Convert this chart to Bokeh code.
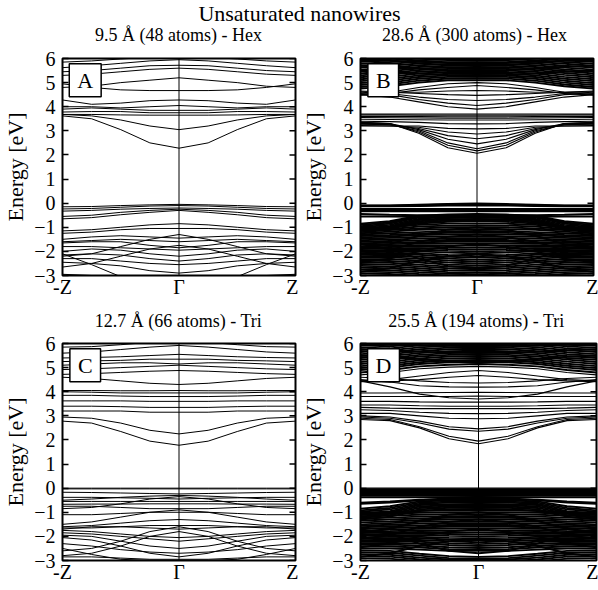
import math
from bokeh.plotting import figure
from bokeh.layouts import column, row
from bokeh.models import Span, Label, FixedTicker, Range1d
from bokeh.embed import file_html
from bokeh.resources import INLINE

FONT = "'Liberation Serif'"

# k points from Gamma (0) to Z (1); bands are symmetric about Gamma
k_half = [0.0, 0.25, 0.5, 0.75, 1.0]
y_ticks = [-3, -2, -1, 0, 1, 2, 3, 4, 5, 6]
x_ticks = [-1, 0, 1]
x_tick_labels = ["-Z", "Γ", "Z"]

main_title = "Unsaturated nanowires"
panel_titles = ["9.5 Å (48 atoms) - Hex", "28.6 Å (300 atoms) - Hex",
                "12.7 Å (66 atoms) - Tri", "25.5 Å (194 atoms) - Tri"]
panel_letters = ["A", "B", "C", "D"]

# Energies [eV] at k = 0, 0.25, 0.5, 0.75, 1 (Gamma -> Z)
bands_A = [
    [2.28, 2.5, 3.05, 3.5, 3.62],
    [3.05, 3.2, 3.45, 3.62, 3.68],
    [3.65, 3.65, 3.66, 3.68, 3.68],
    [3.75, 3.75, 3.8, 3.8, 3.78],
    [3.85, 3.85, 3.9, 3.95, 3.9],
    [4.05, 4.0, 3.95, 4.0, 4.0],
    [4.28, 4.25, 4.15, 4.1, 4.28],
    [4.67, 4.67, 4.7, 4.8, 4.95],
    [5.2, 5.1, 5.0, 4.85, 4.8],
    [5.6, 5.55, 5.45, 5.35, 5.3],
    [5.72, 5.7, 5.6, 5.5, 5.45],
    [5.95, 5.9, 5.8, 5.7, 5.62],
    [6.1, 6.05, 5.98, 5.9, 5.85],
    [-0.05, -0.07, -0.1, -0.14, -0.15],
    [-0.1, -0.12, -0.17, -0.22, -0.24],
    [-0.2, -0.22, -0.25, -0.3, -0.33],
    [-0.25, -0.3, -0.38, -0.5, -0.55],
    [-0.3, -0.38, -0.48, -0.6, -0.65],
    [-0.85, -0.9, -1.0, -1.1, -1.15],
    [-1.05, -1.05, -1.1, -1.2, -1.25],
    [-1.45, -1.4, -1.35, -1.4, -1.5],
    [-1.6, -1.55, -1.5, -1.55, -1.6],
    [-1.85, -1.75, -1.6, -1.6, -1.65],
    [-1.95, -1.9, -1.85, -1.8, -1.8],
    [-2.2, -2.1, -1.95, -1.9, -2.0],
    [-2.4, -2.3, -2.15, -2.1, -2.15],
    [-2.55, -2.5, -2.4, -2.3, -2.3],
    [-2.9, -2.8, -2.6, -2.5, -2.45],
    [-1.75, -1.9, -2.2, -2.5, -2.65],
    [-1.3, -1.5, -1.8, -2.1, -2.2],
    [-3.6, -3.4, -3.05, -2.55, -2.1],
    [-3.0, -3.0, -3.05, -3.0, -2.95],
]

bands_B = [
    [2.07, 2.3, 2.9, 3.3, 3.35],
    [2.17, 2.4, 2.95, 3.3, 3.35],
    [2.26, 2.5, 3.0, 3.25, 3.3],
    [2.46, 2.65, 3.05, 3.3, 3.3],
    [2.67, 2.8, 3.1, 3.25, 3.28],
    [2.87, 2.95, 3.15, 3.2, 3.22],
    [3.08, 3.1, 3.2, 3.2, 3.2],
    [3.29, 3.3, 3.35, 3.38, 3.4],
    [3.45, 3.45, 3.46, 3.47, 3.48],
    [3.52, 3.52, 3.53, 3.54, 3.55],
    [3.58, 3.58, 3.59, 3.6, 3.6],
    [3.65, 3.65, 3.65, 3.66, 3.66],
    [3.7, 3.7, 3.7, 3.7, 3.7],
    [3.9, 4.0, 4.2, 4.4, 4.5],
    [4.05, 4.15, 4.3, 4.5, 4.55],
    [4.26, 4.3, 4.4, 4.55, 4.6],
    [4.47, 4.5, 4.55, 4.6, 4.65],
    [4.67, 4.65, 4.6, 4.6, 4.62],
    [5.0, 4.95, 4.8, 4.6, 4.5],
    [4.88, 4.8, 4.7, 4.55, 4.48],
    [5.1, 5.1, 5.0, 4.85, 4.75],
    [5.18, 5.17, 5.08, 4.92, 4.82],
    [5.25, 5.24, 5.16, 5.0, 4.9],
    [5.32, 5.3, 5.23, 5.08, 4.98],
    [5.38, 5.37, 5.3, 5.16, 5.06],
    [5.45, 5.44, 5.38, 5.24, 5.14],
    [5.52, 5.5, 5.45, 5.32, 5.22],
    [5.58, 5.57, 5.52, 5.4, 5.3],
    [5.65, 5.64, 5.58, 5.48, 5.38],
    [5.72, 5.7, 5.65, 5.55, 5.46],
    [5.78, 5.77, 5.72, 5.62, 5.54],
    [5.85, 5.84, 5.79, 5.7, 5.62],
    [5.92, 5.9, 5.86, 5.78, 5.7],
    [5.98, 5.97, 5.93, 5.85, 5.78],
    [6.05, 6.04, 6.0, 5.92, 5.86],
    [6.1, 6.1, 6.06, 5.98, 5.93],
    [5.3, 5.32, 5.38, 5.45, 5.5],
    [5.5, 5.52, 5.58, 5.66, 5.7],
    [5.8, 5.82, 5.86, 5.9, 5.95],
    [0.0, -0.02, -0.05, -0.08, -0.08],
    [-0.03, -0.05, -0.08, -0.1, -0.1],
    [-0.06, -0.07, -0.1, -0.12, -0.12],
    [-0.1, -0.1, -0.12, -0.13, -0.13],
    [-0.24, -0.24, -0.24, -0.24, -0.24],
    [-0.3, -0.3, -0.3, -0.3, -0.3],
    [-0.34, -0.34, -0.34, -0.34, -0.34],
    [-0.5, -0.5, -0.5, -0.48, -0.45],
    [-0.58, -0.58, -0.57, -0.55, -0.55],
    [-0.45, -0.47, -0.52, -0.75, -0.85],
    [-0.48, -0.5, -0.56, -0.8, -0.9],
    [-0.5, -0.52, -0.6, -0.85, -0.95],
    [-0.55, -0.57, -0.65, -0.9, -1.0],
    [-0.6, -0.62, -0.7, -0.95, -1.05],
    [-0.65, -0.67, -0.75, -1.0, -1.1],
    [-0.7, -0.72, -0.8, -1.02, -1.12],
    [-0.75, -0.77, -0.85, -1.05, -1.15],
    [-0.85, -0.85, -0.9, -1.0, -1.05],
    [-0.92, -0.93, -0.97, -1.08, -1.15],
    [-1.0, -1.0, -1.05, -1.12, -1.2],
    [-1.08, -1.08, -1.1, -1.18, -1.25],
    [-1.15, -1.16, -1.2, -1.25, -1.3],
    [-1.22, -1.23, -1.27, -1.32, -1.36],
    [-1.3, -1.3, -1.32, -1.38, -1.42],
    [-1.38, -1.38, -1.4, -1.44, -1.48],
    [-1.45, -1.45, -1.47, -1.5, -1.54],
    [-1.52, -1.53, -1.55, -1.57, -1.6],
    [-1.6, -1.6, -1.62, -1.64, -1.66],
    [-1.68, -1.68, -1.68, -1.7, -1.72],
    [-1.76, -1.75, -1.74, -1.76, -1.78],
    [-1.84, -1.83, -1.8, -1.82, -1.84],
    [-1.92, -1.9, -1.87, -1.88, -1.9],
    [-2.0, -1.98, -1.94, -1.94, -1.96],
    [-2.08, -2.05, -2.0, -2.0, -2.02],
    [-2.2, -2.15, -2.07, -2.06, -2.08],
    [-2.26, -2.22, -2.14, -2.12, -2.14],
    [-2.34, -2.3, -2.22, -2.18, -2.2],
    [-2.42, -2.38, -2.3, -2.25, -2.26],
    [-2.5, -2.46, -2.38, -2.32, -2.32],
    [-2.58, -2.55, -2.46, -2.4, -2.38],
    [-2.66, -2.63, -2.55, -2.47, -2.45],
    [-2.74, -2.7, -2.62, -2.55, -2.52],
    [-2.8, -2.78, -2.7, -2.62, -2.6],
    [-2.88, -2.86, -2.78, -2.7, -2.68],
    [-2.95, -2.93, -2.86, -2.78, -2.76],
    [-3.02, -3.0, -2.94, -2.86, -2.84],
    [-3.1, -3.08, -3.02, -2.94, -2.92],
    [-1.0, -1.1, -1.35, -1.7, -1.85],
    [-1.3, -1.4, -1.6, -1.95, -2.1],
    [-1.7, -1.8, -2.0, -2.3, -2.45],
    [-2.1, -2.2, -2.4, -2.7, -2.85],
    [-2.7, -2.6, -2.3, -1.9, -1.7],
]

bands_C = [
    [1.78, 1.95, 2.35, 2.7, 2.78],
    [2.25, 2.4, 2.7, 2.9, 2.95],
    [3.15, 3.15, 3.2, 3.2, 3.2],
    [3.35, 3.35, 3.38, 3.4, 3.4],
    [3.6, 3.6, 3.62, 3.62, 3.62],
    [3.8, 3.8, 3.82, 3.85, 3.85],
    [3.95, 3.95, 3.95, 3.98, 4.0],
    [4.05, 4.04, 4.04, 4.05, 4.05],
    [4.3, 4.35, 4.45, 4.55, 4.6],
    [4.88, 4.85, 4.8, 4.75, 4.72],
    [5.1, 5.05, 5.0, 4.95, 4.92],
    [5.15, 5.2, 5.2, 5.15, 5.1],
    [5.35, 5.35, 5.3, 5.28, 5.25],
    [5.55, 5.5, 5.45, 5.42, 5.4],
    [5.92, 5.85, 5.75, 5.65, 5.6],
    [6.1, 6.05, 5.95, 5.87, 5.85],
    [0.0, 0.0, 0.0, 0.0, 0.0],
    [-0.03, -0.03, -0.03, -0.03, -0.03],
    [-0.24, -0.22, -0.2, -0.18, -0.17],
    [-0.3, -0.33, -0.38, -0.45, -0.5],
    [-0.35, -0.45, -0.65, -0.8, -0.85],
    [-0.45, -0.42, -0.4, -0.38, -0.38],
    [-0.55, -0.55, -0.55, -0.55, -0.55],
    [-0.65, -0.65, -0.66, -0.66, -0.67],
    [-0.85, -0.85, -0.8, -0.75, -0.75],
    [-1.0, -1.0, -1.05, -1.1, -1.1],
    [-0.9, -1.0, -1.2, -1.4, -1.5],
    [-1.3, -1.35, -1.45, -1.55, -1.6],
    [-1.55, -1.55, -1.6, -1.65, -1.65],
    [-1.7, -1.65, -1.6, -1.6, -1.7],
    [-2.05, -2.0, -1.9, -1.8, -1.75],
    [-2.2, -2.1, -2.0, -1.9, -1.85],
    [-2.5, -2.4, -2.2, -2.0, -1.95],
    [-2.85, -2.7, -2.4, -2.15, -2.05],
    [-1.6, -1.8, -2.2, -2.5, -2.6],
    [-1.8, -2.0, -2.4, -2.7, -2.8],
    [-2.7, -2.65, -2.55, -2.4, -2.3],
    [-2.95, -2.95, -2.9, -2.85, -2.85],
    [-3.0, -3.0, -2.95, -2.75, -2.5],
]

bands_D = [
    [1.84, 2.05, 2.5, 2.8, 2.85],
    [1.95, 2.15, 2.55, 2.85, 2.9],
    [2.36, 2.45, 2.7, 2.9, 2.95],
    [2.46, 2.55, 2.78, 2.95, 3.0],
    [2.88, 2.9, 3.0, 3.1, 3.1],
    [3.09, 3.1, 3.15, 3.22, 3.25],
    [3.3, 3.3, 3.3, 3.32, 3.35],
    [3.4, 3.4, 3.42, 3.45, 3.45],
    [3.57, 3.57, 3.58, 3.6, 3.6],
    [3.7, 3.75, 3.9, 4.2, 4.45],
    [3.82, 3.8, 3.8, 3.8, 3.8],
    [3.98, 3.97, 3.96, 3.95, 3.95],
    [4.19, 4.2, 4.25, 4.4, 4.5],
    [4.36, 4.38, 4.45, 4.55, 4.6],
    [4.67, 4.6, 4.5, 4.45, 4.42],
    [4.88, 4.8, 4.65, 4.5, 4.45],
    [5.05, 5.02, 4.95, 4.8, 4.7],
    [5.15, 5.12, 5.05, 4.9, 4.8],
    [5.25, 5.22, 5.15, 5.0, 4.9],
    [5.32, 5.3, 5.22, 5.08, 4.98],
    [5.4, 5.38, 5.3, 5.16, 5.06],
    [5.48, 5.46, 5.38, 5.25, 5.15],
    [5.55, 5.53, 5.46, 5.33, 5.23],
    [5.62, 5.6, 5.53, 5.4, 5.32],
    [5.7, 5.68, 5.6, 5.48, 5.4],
    [5.78, 5.76, 5.68, 5.56, 5.48],
    [5.85, 5.83, 5.76, 5.64, 5.56],
    [5.92, 5.9, 5.84, 5.72, 5.65],
    [5.98, 5.97, 5.92, 5.8, 5.73],
    [6.05, 6.04, 5.98, 5.88, 5.82],
    [6.1, 6.1, 6.05, 5.95, 5.9],
    [5.2, 5.25, 5.35, 5.45, 5.5],
    [5.6, 5.62, 5.66, 5.72, 5.76],
    [5.88, 5.9, 5.92, 5.95, 5.97],
    [0.0, 0.0, 0.0, 0.0, 0.0],
    [-0.04, -0.04, -0.04, -0.04, -0.04],
    [-0.1, -0.1, -0.1, -0.1, -0.1],
    [-0.15, -0.15, -0.15, -0.15, -0.15],
    [-0.2, -0.2, -0.2, -0.2, -0.2],
    [-0.26, -0.26, -0.26, -0.26, -0.26],
    [-0.32, -0.32, -0.32, -0.32, -0.32],
    [-0.36, -0.37, -0.38, -0.38, -0.38],
    [-0.4, -0.42, -0.5, -0.6, -0.65],
    [-0.45, -0.46, -0.48, -0.55, -0.6],
    [-0.5, -0.5, -0.55, -0.75, -0.85],
    [-0.55, -0.56, -0.6, -0.82, -0.92],
    [-0.6, -0.6, -0.65, -0.88, -0.98],
    [-0.65, -0.66, -0.7, -0.95, -1.05],
    [-0.7, -0.71, -0.76, -1.0, -1.12],
    [-0.75, -0.76, -0.82, -1.06, -1.18],
    [-0.8, -0.81, -0.88, -1.12, -1.24],
    [-0.86, -0.87, -0.93, -1.18, -1.3],
    [-0.92, -0.92, -0.95, -1.0, -1.02],
    [-1.0, -1.0, -1.02, -1.06, -1.08],
    [-1.08, -1.08, -1.1, -1.14, -1.16],
    [-1.15, -1.16, -1.18, -1.22, -1.26],
    [-1.22, -1.23, -1.26, -1.3, -1.34],
    [-1.3, -1.3, -1.33, -1.38, -1.42],
    [-1.38, -1.38, -1.4, -1.45, -1.5],
    [-1.45, -1.45, -1.47, -1.52, -1.56],
    [-1.52, -1.53, -1.55, -1.58, -1.62],
    [-1.6, -1.6, -1.62, -1.65, -1.68],
    [-1.68, -1.68, -1.69, -1.72, -1.75],
    [-1.76, -1.75, -1.75, -1.78, -1.8],
    [-1.84, -1.83, -1.82, -1.84, -1.86],
    [-1.92, -1.9, -1.88, -1.9, -1.92],
    [-2.0, -1.98, -1.95, -1.96, -1.98],
    [-2.08, -2.06, -2.02, -2.02, -2.04],
    [-2.16, -2.13, -2.08, -2.08, -2.1],
    [-2.24, -2.2, -2.15, -2.14, -2.16],
    [-2.32, -2.28, -2.22, -2.2, -2.22],
    [-2.4, -2.36, -2.3, -2.27, -2.28],
    [-2.48, -2.45, -2.38, -2.34, -2.35],
    [-2.56, -2.53, -2.46, -2.42, -2.42],
    [-2.6, -2.6, -2.55, -2.5, -2.5],
    [-2.85, -2.82, -2.72, -2.6, -2.58],
    [-2.92, -2.9, -2.8, -2.68, -2.66],
    [-2.98, -2.96, -2.88, -2.76, -2.74],
    [-3.05, -3.03, -2.96, -2.84, -2.82],
    [-3.1, -3.1, -3.04, -2.92, -2.9],
    [-1.0, -1.1, -1.35, -1.7, -1.85],
    [-1.3, -1.4, -1.6, -1.95, -2.1],
    [-1.7, -1.8, -2.0, -2.3, -2.45],
    [-2.1, -2.2, -2.4, -2.7, -2.85],
    [-2.7, -2.6, -2.3, -1.9, -1.7],
]


def mirrored(vals):
    xs = [-k for k in k_half[::-1]] + k_half[1:]
    ys = list(vals[::-1]) + list(vals[1:])
    return xs, ys


def text_strip(width, height):
    s = figure(width=width, height=height, x_range=Range1d(0, 1), y_range=Range1d(0, 1),
               output_backend="svg", toolbar_location=None, min_border=0)
    s.axis.visible = False
    s.grid.visible = False
    s.outline_line_color = None
    return s


def add_text(s, text, x, y, size, baseline="middle"):
    s.add_layout(Label(x=x, y=y, text=text, text_align="center", text_baseline=baseline,
                       text_font=FONT, text_font_size=size, text_color="black"))


def make_panel(bands, letter, width, height, bl, br, bt, bb, lw, lw_dense):
    p = figure(width=width, height=height, x_range=Range1d(x_ticks[0], x_ticks[-1]),
               y_range=Range1d(y_ticks[0], y_ticks[-1]),
               output_backend="svg", toolbar_location=None,
               min_border_left=bl, min_border_right=br, min_border_top=bt, min_border_bottom=bb)
    p.background_fill_color = "white"
    p.border_fill_color = "white"
    p.outline_line_color = "black"
    p.outline_line_width = 2
    p.xgrid.visible = False
    p.ygrid.visible = False

    xs_all, ys_all, widths = [], [], []
    for b in bands:
        xs, ys = mirrored(b)
        xs_all.append(xs)
        ys_all.append(ys)
        dense = max(b) < 0 or min(b) > 4.7
        widths.append(lw_dense if dense else lw)
    p.multi_line(xs=xs_all, ys=ys_all, line_color="black", line_width=widths)

    p.add_layout(Span(location=0, dimension="height", line_color="black", line_width=1))

    # inward ticks on the right frame edge
    p.ray(x=[x_ticks[-1]] * len(y_ticks), y=y_ticks, length=6, length_units="screen",
          angle=math.pi, line_color="black", line_width=1.5)

    xa = p.xaxis[0]
    xa.ticker = FixedTicker(ticks=x_ticks)
    xa.major_label_overrides = {t: l for t, l in zip(x_ticks, x_tick_labels)}
    xa.major_tick_in = 0
    xa.major_tick_out = 0
    xa.minor_tick_line_color = None
    xa.axis_line_color = None
    xa.major_label_standoff = 0
    xa.major_label_text_font = FONT
    xa.major_label_text_font_size = "20px"
    xa.major_label_text_color = "black"

    ya = p.yaxis[0]
    ya.ticker = FixedTicker(ticks=y_ticks)
    ya.axis_label = "Energy [eV]"
    ya.axis_label_text_font = FONT
    ya.axis_label_text_font_size = "22px"
    ya.axis_label_text_font_style = "normal"
    ya.axis_label_text_color = "black"
    ya.axis_label_standoff = 3
    ya.major_tick_in = 6
    ya.major_tick_out = 0
    ya.major_tick_line_width = 1.5
    ya.minor_tick_line_color = None
    ya.axis_line_color = None
    ya.major_label_standoff = 7
    ya.major_label_text_font = FONT
    ya.major_label_text_font_size = "20px"
    ya.major_label_text_color = "black"

    p.add_layout(Label(x=-0.805, y=5.1, text=letter, text_align="center", text_baseline="middle",
                       text_font=FONT, text_font_size="22px", text_color="black",
                       background_fill_color="white", border_line_color="black",
                       border_line_width=1.5, padding=dict(left=8, right=8, top=4, bottom=4)))
    return p


# header strip: main title plus the two upper subtitles (centred over each frame)
head = text_strip(598, 46)
add_text(head, main_title, 0.5, 1.0, "22px", baseline="top")
add_text(head, panel_titles[0], 178 / 598, 0.24, "18px")
add_text(head, panel_titles[1], (298 + 176) / 598, 0.24, "18px")

mid = text_strip(598, 31)
add_text(mid, panel_titles[2], 178 / 598, 0.34, "18px")
add_text(mid, panel_titles[3], (298 + 178) / 598, 0.34, "18px")

pA = make_panel(bands_A, panel_letters[0], 298, 254, 61, 3, 12, 25, 1.0, 1.0)
pB = make_panel(bands_B, panel_letters[1], 300, 254, 57, 5, 12, 25, 1.1, 1.9)
pC = make_panel(bands_C, panel_letters[2], 298, 259, 61, 3, 12, 30, 1.0, 1.0)
pD = make_panel(bands_D, panel_letters[3], 300, 259, 61, 2, 12, 30, 1.1, 1.9)

layout = column(head, row(pA, pB), mid, row(pC, pD))
open("out.html", "w").write(file_html(layout, INLINE))
